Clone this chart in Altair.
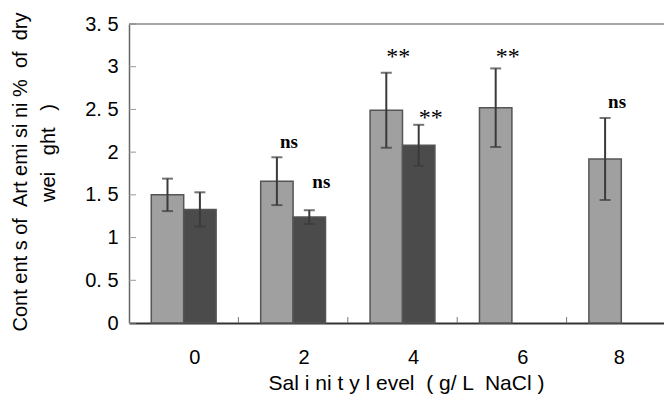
import altair as alt
import pandas as pd

# ---- data ----
levels = ["0", "2", "4", "6", "8"]
series = ["light", "dark"]

light_mean = [1.50, 1.66, 2.49, 2.52, 1.92]
light_err = [0.19, 0.28, 0.44, 0.46, 0.48]

dark_levels = ["0", "2", "4"]
dark_mean = [1.33, 1.24, 2.08]
dark_err = [0.20, 0.08, 0.24]

ann_level = ["2", "2", "4", "4", "6", "8"]
ann_series = ["light", "dark", "light", "dark", "light", "light"]
ann_text = ["ns", "ns", "**", "**", "**", "ns"]
ann_y = [2.12, 1.65, 3.17, 2.46, 3.17, 2.59]

y_ticks = [0, 0.5, 1, 1.5, 2, 2.5, 3, 3.5]
band_edges = ["2", "4", "6", "8"]

NB = "\u00a0"
y_title_1 = f"Cont ent s of {NB}Art emi si ni % {NB}of {NB}dry"
y_title_2 = f"wei{NB * 3}ght{NB * 3})"
x_title = f"Sal i ni t y l evel {NB}( g/ L {NB}NaCl )"

# ---- tables ----
bars = pd.DataFrame(
    {"level": levels, "series": "light", "mean": light_mean, "err": light_err}
)
bars = pd.concat(
    [bars, pd.DataFrame({"level": dark_levels, "series": "dark", "mean": dark_mean, "err": dark_err})],
    ignore_index=True,
)
bars["lo"] = bars["mean"] - bars["err"]
bars["hi"] = bars["mean"] + bars["err"]

ann = pd.DataFrame({"level": ann_level, "series": ann_series, "text": ann_text, "y": ann_y})
yt = pd.DataFrame({"v": y_ticks})
edges = pd.DataFrame({"level": band_edges})

W, H = 535, 299
XR = 547  # x range runs slightly past the right edge, as the figure is cropped there
FONT = "Liberation Sans"

x_scale = alt.Scale(domain=levels, range=[0, XR], paddingInner=0, paddingOuter=0)
y_scale = alt.Scale(domain=[0, 3.5], nice=False)
xo_scale = alt.Scale(domain=series, paddingInner=0, paddingOuter=0.6875)

x_enc = alt.X(
    "level:N",
    sort=levels,
    scale=x_scale,
    axis=alt.Axis(
        title=x_title,
        labelAngle=0,
        ticks=False,
        labelFontSize=20,
        labelFont=FONT,
        labelColor="#000",
        labelPadding=24,
        labelOffset={"condition": {"test": "datum.value == '8'", "value": -2}, "value": 11},
        titleFont=FONT,
        titleFontSize=21,
        titleFontWeight="normal",
        titleColor="#000",
        titlePadding=5,
        titleX=406 - 129,
        domainColor="#333",
        domainWidth=2,
    ),
)
y_enc = alt.Y(
    "mean:Q",
    scale=y_scale,
    axis=alt.Axis(
        title=None,
        values=y_ticks,
        ticks=False,
        grid=False,
        labelExpr="replace(format(datum.value, ''), '.', '. ')",
        labelFontSize=20,
        labelFont=FONT,
        labelColor="#000",
        labelPadding=11,
        domainColor="#666",
        domainWidth=1.5,
    ),
)
xo = alt.XOffset("series:N", scale=xo_scale)
x_plain = alt.X("level:N", sort=levels, scale=x_scale)

bar_layer = alt.Chart(bars).mark_bar(stroke="#555", strokeWidth=1.5).encode(
    x=x_enc,
    xOffset=xo,
    y=y_enc,
    color=alt.Color(
        "series:N",
        scale=alt.Scale(domain=series, range=["#a0a0a0", "#4b4b4b"]),
        legend=None,
    ),
)

err_line = alt.Chart(bars).mark_rule(color="#3a3a3a", strokeWidth=2).encode(
    x=x_plain,
    xOffset=xo,
    y=alt.Y("lo:Q", scale=y_scale),
    y2="hi:Q",
)
cap_hi = alt.Chart(bars).mark_tick(color="#3a3a3a", thickness=2, size=11).encode(
    x=x_plain,
    xOffset=xo,
    y=alt.Y("hi:Q", scale=y_scale),
)
cap_lo = alt.Chart(bars).mark_tick(color="#3a3a3a", thickness=2, size=11).encode(
    x=x_plain,
    xOffset=xo,
    y=alt.Y("lo:Q", scale=y_scale),
)

ns_layer = alt.Chart(ann).transform_filter("datum.text == 'ns'").mark_text(
    font="Liberation Serif", fontSize=19, fontWeight="bold", dx=12, baseline="middle", color="#000"
).encode(
    x=x_plain,
    xOffset=xo,
    y=alt.Y("y:Q", scale=y_scale),
    text="text:N",
)
star_layer = alt.Chart(ann).transform_filter("datum.text != 'ns'").mark_text(
    font="Liberation Serif", fontSize=24, fontWeight="normal", dx=12, dy=5, baseline="middle", color="#000"
).encode(
    x=x_plain,
    xOffset=xo,
    y=alt.Y("y:Q", scale=y_scale),
    text="text:N",
)

ytick_layer = alt.Chart(yt).mark_rule(color="#999", strokeWidth=1).encode(
    y=alt.Y("v:Q", scale=y_scale),
    x=alt.value(0),
    x2=alt.value(7),
)
xtick_layer = alt.Chart(edges).mark_rule(color="#777", strokeWidth=1).encode(
    x=alt.X("level:N", sort=levels, scale=x_scale, bandPosition=0),
    y=alt.value(H - 6),
    y2=alt.value(H),
)
top_border = alt.Chart(pd.DataFrame({"a": [0]})).mark_rule(color="#888", strokeWidth=1.5).encode(
    x=alt.value(0), x2=alt.value(XR), y=alt.value(0)
)

title1 = alt.Chart(pd.DataFrame({"t": [y_title_1]})).mark_text(
    angle=270, font=FONT, fontSize=20, color="#000", baseline="middle", align="center"
).encode(x=alt.value(21 - 129), y=alt.value(172 - 24), text="t:N")
title2 = alt.Chart(pd.DataFrame({"t": [y_title_2]})).mark_text(
    angle=270, font=FONT, fontSize=20, color="#000", baseline="middle", align="center"
).encode(x=alt.value(49 - 129), y=alt.value(153 - 24), text="t:N")

chart = (
    alt.layer(
        bar_layer, err_line, cap_hi, cap_lo, ns_layer, star_layer,
        ytick_layer, xtick_layer, top_border, title1, title2,
    )
    .properties(
        width=W,
        height=H,
        autosize=alt.AutoSizeParams(type="none"),
        padding={"left": 121, "top": 16, "right": 0, "bottom": 78},
        background="white",
    )
    .configure_view(stroke=None)
)

chart.save("out.html", embed_options={"renderer": "svg", "actions": False})
